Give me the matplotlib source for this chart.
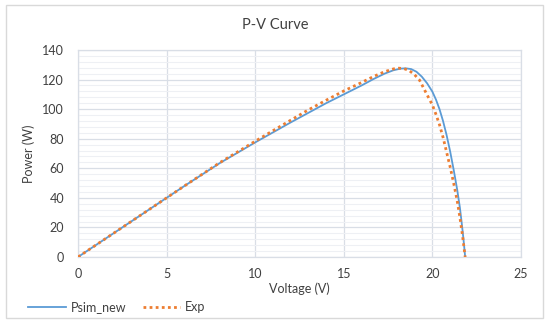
import matplotlib
matplotlib.use("Agg")
import matplotlib.pyplot as plt
import matplotlib.ticker as ticker
from matplotlib.patches import Rectangle

# Curva P-V: simulacao (Psim_new) e dados experimentais (Exp)
v_sim = [0, 2, 4, 6, 8, 10, 12, 13, 14, 15, 16, 16.7, 17.3, 17.8, 18.2, 18.5,
         18.8, 19.1, 19.4, 19.7, 20.0, 20.2, 20.4, 20.6, 20.8, 21.0, 21.2,
         21.4, 21.55, 21.65, 21.75, 21.85]
p_sim = [0, 16, 32, 48, 63.5, 77.5, 91, 97.5, 104, 110, 116, 120.5, 124, 126.3,
         127.4, 127.6, 127.1, 125.3, 122, 117.5, 111.8, 106.5, 100, 92, 82.5,
         71.5, 59, 45.5, 33.5, 23.5, 12.5, 0]

v_exp = [0, 2, 4, 6, 8, 10, 12, 13, 14, 15, 16, 16.7, 17.3, 17.8, 18.1, 18.4,
         18.7, 19.0, 19.27, 19.6, 20.0, 20.2, 20.4, 20.6, 20.8, 21.0, 21.2,
         21.4, 21.55, 21.7, 21.85]
p_exp = [0, 16, 32, 48, 63.8, 78.3, 92.5, 99.5, 106, 112.3, 118, 122.2, 125.3,
         127.2, 127.7, 127.4, 126, 123.2, 119.7, 112, 102.8, 96.5, 89.5, 81,
         71, 61, 50, 38, 27, 14.5, 0]

title = "P-V Curve"
x_label = "Voltage (V)"
y_label = "Power (W)"

BLUE = "#5B9BD5"
ORANGE = "#ED7D31"
TXT = "#404040"

plt.rcParams['font.family'] = ['Lato', 'DejaVu Sans']

fig = plt.figure(figsize=(5.5, 3.23), dpi=100)
fig.patch.set_facecolor('white')

# moldura do grafico
fig.patches.append(Rectangle((6 / 550, 5 / 323), 537 / 550, 313 / 323,
                             transform=fig.transFigure, fill=False,
                             edgecolor='#D9D9D9', linewidth=1.0))

ax = fig.add_axes([78 / 550, 66 / 323, 443 / 550, 207 / 323])

ax.plot(v_sim, p_sim, color=BLUE, linewidth=1.3, label="Psim_new", zorder=3)
ax.plot(v_exp, p_exp, color=ORANGE, linewidth=2.0, linestyle=(0, (1, 1.2)),
        label="Exp", zorder=4)

ax.set_xlim(0, 25)
ax.set_ylim(0, 140)
ax.xaxis.set_major_locator(ticker.MultipleLocator(5))
ax.yaxis.set_major_locator(ticker.MultipleLocator(20))
ax.yaxis.set_minor_locator(ticker.MultipleLocator(4))

ax.grid(which='major', color='#D9DEE6', linewidth=0.9)
ax.grid(which='minor', axis='y', color='#EEF0F4', linewidth=0.8)
ax.set_axisbelow(True)
for s in ax.spines.values():
    s.set_color('#D9DEE6')
    s.set_linewidth(0.9)

ax.tick_params(which='both', length=0, labelsize=9, colors=TXT)
ax.tick_params(axis='x', pad=8)
ax.tick_params(axis='y', pad=10)

ax.set_xlabel(x_label, fontsize=9, color=TXT, labelpad=2)
ax.set_ylabel(y_label, fontsize=9, color=TXT, labelpad=5)

fig.text(0.5, 1 - 25 / 323, title, ha='center', va='center', fontsize=10.5,
         color=TXT)

fig.legend(loc='center left', bbox_to_anchor=(17 / 550, 1 - 307 / 323),
           ncol=2, frameon=False, fontsize=9, handlelength=3.0,
           handletextpad=0.4, columnspacing=1.3, labelcolor=TXT)

fig.savefig("out.png", dpi=100, facecolor='white')
